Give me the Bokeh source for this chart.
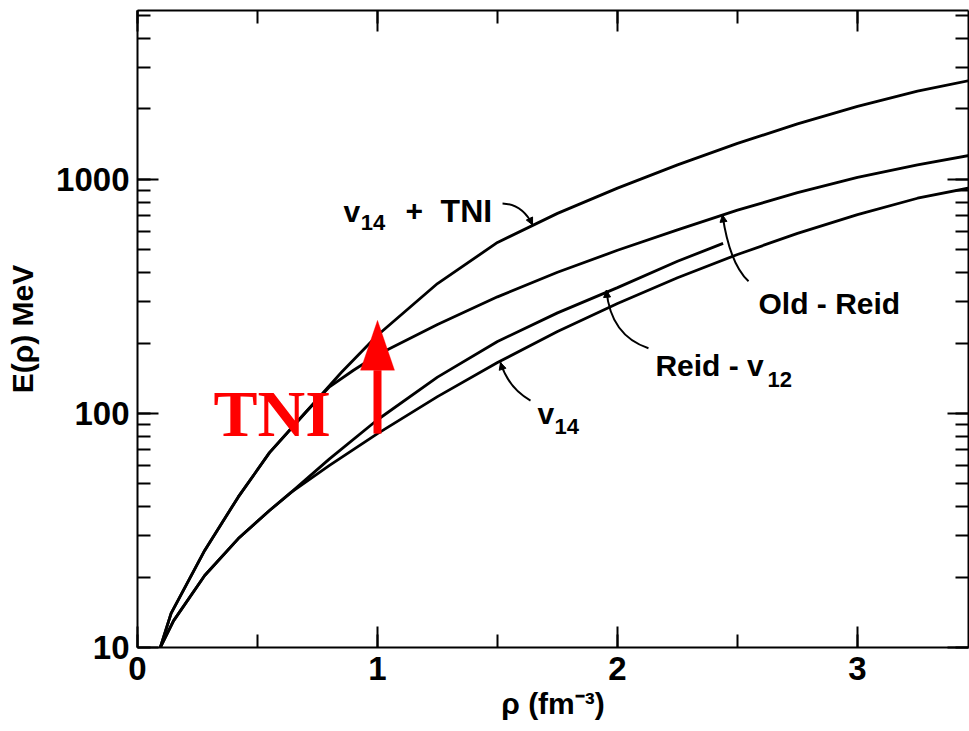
from bokeh.plotting import figure
from bokeh.models import (Range1d, LinearAxis, LogAxis, SingleIntervalTicker, LogTicker,
                          BasicTickFormatter, Label, Arrow, NormalHead, PolyAnnotation, Title)
from bokeh.embed import file_html
from bokeh.resources import INLINE

# ---------------- data ----------------
tni_rho = [0.095, 0.14, 0.28, 0.42, 0.55, 0.70, 0.85, 1.00, 1.25, 1.50, 1.75, 2.00, 2.25, 2.50, 2.75, 3.00, 3.25, 3.47]
tni_E   = [10, 14, 26, 44, 68, 101, 150, 216, 359, 538, 716, 918, 1154, 1425, 1728, 2053, 2383, 2650]

oldreid_rho = [0.095, 0.14, 0.28, 0.42, 0.55, 0.70, 0.80, 0.90, 1.00, 1.25, 1.50, 1.75, 2.00, 2.25, 2.50, 2.75, 3.00, 3.25, 3.47]
oldreid_E   = [10, 14, 26, 44, 68, 101, 130, 153, 178, 240, 315, 401, 498, 609, 739, 878, 1021, 1153, 1269]

reid_rho = [0.095, 0.15, 0.28, 0.42, 0.55, 0.64, 0.80, 1.00, 1.25, 1.50, 1.75, 2.00, 2.25, 2.44]
reid_E   = [10, 13, 20.3, 29.2, 38.5, 46, 64, 94, 143, 203, 269, 345, 447, 533]

v14_rho = [0.095, 0.15, 0.28, 0.42, 0.55, 0.64, 0.80, 1.00, 1.25, 1.50, 1.75, 2.00, 2.25, 2.50, 2.75, 3.00, 3.25, 3.47]
v14_E   = [10, 13, 20.3, 29.2, 38.5, 46, 60, 82, 118, 165, 224, 295, 380, 478, 588, 707, 831, 921]

x_major_interval = 1
y_range_lo, y_range_hi = 10, 5270
x_range_lo, x_range_hi = 0, 3.4625

FONT = "Liberation Sans"

p = figure(width=969, height=731, output_backend="svg", toolbar_location=None,
           x_range=Range1d(x_range_lo, x_range_hi),
           y_range=Range1d(y_range_lo, y_range_hi), y_axis_type="log",
           min_border_left=137, min_border_right=1, min_border_top=10, min_border_bottom=84)
p.outline_line_color = None
p.xgrid.visible = False
p.ygrid.visible = False
p.background_fill_color = "white"
p.border_fill_color = "white"

bottom_axis = p.below[0]
left_axis = p.left[0]
top_axis = LinearAxis()
right_axis = LogAxis()
p.add_layout(top_axis, "above")
p.add_layout(right_axis, "right")

for ax in [bottom_axis, top_axis]:
    ax.ticker = SingleIntervalTicker(interval=x_major_interval, num_minor_ticks=2)
for ax in [left_axis, right_axis]:
    ax.ticker = LogTicker(num_minor_ticks=10)
    ax.formatter = BasicTickFormatter(use_scientific=False)

for ax in [bottom_axis, top_axis, left_axis, right_axis]:
    ax.major_tick_in = 21
    ax.major_tick_out = 0
    ax.minor_tick_in = 13
    ax.minor_tick_out = 0
    ax.axis_line_width = 2
    ax.axis_line_color = "black"
    ax.major_tick_line_width = 2
    ax.minor_tick_line_width = 2
    ax.major_tick_line_color = "black"
    ax.minor_tick_line_color = "black"
    ax.major_label_text_font = FONT
    ax.major_label_text_font_style = "bold"
    ax.major_label_text_color = "black"
    ax.major_label_text_font_size = "33px"

for ax in [top_axis, right_axis]:
    ax.major_label_text_font_size = "0px"
    ax.major_label_text_color = None
    ax.major_label_standoff = 0

bottom_axis.major_label_standoff = 9
left_axis.major_label_standoff = 8
left_axis.axis_label = "E(ρ) MeV"
left_axis.axis_label_text_font = FONT
left_axis.axis_label_text_font_size = "30px"
left_axis.axis_label_text_font_style = "bold"
left_axis.axis_label_text_color = "black"
left_axis.axis_label_standoff = 14

# x-axis title, centred a little left of the frame centre as in the original
p.add_layout(Title(text="ρ (fm⁻³)", align="center", offset=-52, standoff=4,
                   text_font=FONT, text_font_size="30px", text_font_style="bold",
                   text_color="black"), "below")

# ---------------- curves ----------------
for xs, ys in [(tni_rho, tni_E), (oldreid_rho, oldreid_E), (reid_rho, reid_E), (v14_rho, v14_E)]:
    p.line(xs, ys, line_width=2.8, line_color="black")

# ---------------- text labels ----------------
def lab(x, y, t, size="30px", font=FONT, color="black", style="bold", align="left", baseline="alphabetic"):
    p.add_layout(Label(x=x, y=y, text=t, text_font=font, text_font_size=size,
                       text_color=color, text_font_style=style, text_align=align,
                       text_baseline=baseline))

lab(0.858, 730, "v")
lab(0.930, 655, "14", size="22px")
lab(1.117, 730, "+")
lab(1.263, 730, "TNI", size="32px")
lab(2.5875, 295, "Old - Reid")
lab(2.158, 160.4, "Reid - v")
lab(2.625, 139.7, "12", size="22px")
lab(1.667, 100, "v")
lab(1.738, 88, "14", size="22px")

# ---------------- leader lines ----------------
leaders = [
    # x0, y0, cx, cy, x1, y1
    (1.521, 790, 1.604, 782, 1.646, 640),
    (2.546, 367, 2.467, 437, 2.4375, 705),
    (2.129, 190, 1.971, 215, 1.954, 336),
    (1.6375, 113.6, 1.546, 128, 1.5125, 165),
]
for x0, y0, cx, cy, x1, y1 in leaders:
    p.quadratic(x0=x0, y0=y0, cx=cx, cy=cy, x1=x1, y1=y1, line_width=2, line_color="black")
    p.add_layout(Arrow(end=NormalHead(size=7, fill_color="black", line_color="black"),
                       x_start=cx, y_start=cy, x_end=x1, y_end=y1, line_alpha=0))

# ---------------- red TNI annotation ----------------
lab(0.3167, 100, "TNI", size="66px", font="Liberation Serif", color="red", style="bold")
arrow_x, arrow_base, arrow_headbase, arrow_tip, arrow_halfw = 1.0, 82, 153, 250, 0.071
p.add_layout(Arrow(end=None, x_start=arrow_x, y_start=arrow_base, x_end=arrow_x, y_end=arrow_headbase,
                   line_color="red", line_width=8))
p.add_layout(PolyAnnotation(xs=[arrow_x - arrow_halfw, arrow_x + arrow_halfw, arrow_x],
                            ys=[arrow_headbase, arrow_headbase, arrow_tip],
                            fill_color="red", fill_alpha=1.0, line_color="red", line_width=1))

open("out.html", "w").write(file_html(p, INLINE))
